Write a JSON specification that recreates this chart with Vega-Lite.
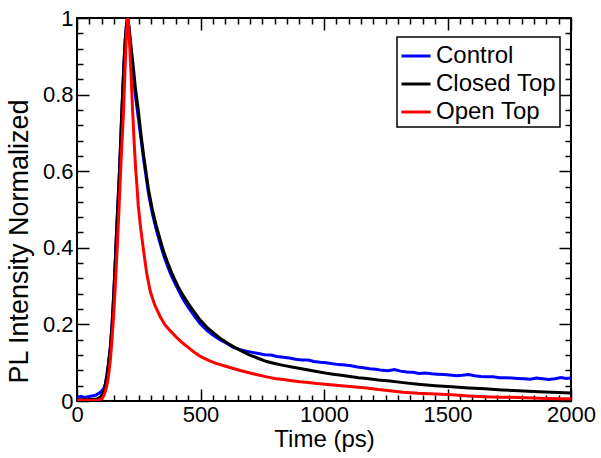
{
"$schema": "https://vega.github.io/schema/vega-lite/v6.json",
"width": 494, "height": 383,
"autosize": {"type": "none"},
"padding": {"left": 77, "top": 18, "right": 30, "bottom": 57},
"config": {
  "font": "Liberation Sans",
  "view": {"stroke": "black", "strokeWidth": 2},
  "axis": {"grid": false, "domain": false, "tickColor": "black", "tickWidth": 1.5, "labelFont": "Liberation Sans", "labelFontSize": 22, "labelColor": "black", "titleFont": "Liberation Sans", "titleFontSize": 24, "titleFontWeight": "normal", "titleColor": "black", "labelOverlap": false, "labelFlush": false},
  "legend": {"strokeColor": "black", "strokeWidth": 1.5, "fillColor": "white", "labelFont": "Liberation Sans", "labelFontSize": 24, "labelColor": "black", "symbolType": "stroke", "symbolSize": 841, "symbolStrokeWidth": 3, "padding": 3, "rowPadding": 0, "labelOffset": 4}
},
"layer": [
  {
    "data": {"values": [
{"s":"Control","t":0,"v":0.010},{"s":"Control","t":15,"v":0.012},{"s":"Control","t":30,"v":0.009},{"s":"Control","t":45,"v":0.011},{"s":"Control","t":60,"v":0.013},{"s":"Control","t":75,"v":0.015},{"s":"Control","t":88,"v":0.02},{"s":"Control","t":98,"v":0.024},{"s":"Control","t":108,"v":0.032},{"s":"Control","t":115,"v":0.045},{"s":"Control","t":121,"v":0.068},{"s":"Control","t":128,"v":0.1},{"s":"Control","t":135,"v":0.14},{"s":"Control","t":142,"v":0.2},{"s":"Control","t":148,"v":0.27},{"s":"Control","t":154,"v":0.35},{"s":"Control","t":160,"v":0.44},{"s":"Control","t":166,"v":0.52},{"s":"Control","t":172,"v":0.6},{"s":"Control","t":177,"v":0.68},{"s":"Control","t":181,"v":0.747},{"s":"Control","t":186,"v":0.82},{"s":"Control","t":190,"v":0.88},{"s":"Control","t":195,"v":0.94},{"s":"Control","t":200,"v":0.98},{"s":"Control","t":205,"v":1.0},{"s":"Control","t":210,"v":0.975},{"s":"Control","t":218,"v":0.92},{"s":"Control","t":225,"v":0.87},{"s":"Control","t":236,"v":0.8},{"s":"Control","t":248,"v":0.74},{"s":"Control","t":260,"v":0.68},{"s":"Control","t":270,"v":0.63},{"s":"Control","t":280,"v":0.585},{"s":"Control","t":290,"v":0.54},{"s":"Control","t":305,"v":0.49},{"s":"Control","t":320,"v":0.45},{"s":"Control","t":335,"v":0.415},{"s":"Control","t":351,"v":0.38},{"s":"Control","t":365,"v":0.355},{"s":"Control","t":380,"v":0.33},{"s":"Control","t":395,"v":0.31},{"s":"Control","t":410,"v":0.29},{"s":"Control","t":430,"v":0.265},{"s":"Control","t":450,"v":0.245},{"s":"Control","t":475,"v":0.222},{"s":"Control","t":498,"v":0.202},{"s":"Control","t":525,"v":0.185},{"s":"Control","t":550,"v":0.172},{"s":"Control","t":579,"v":0.16},{"s":"Control","t":607,"v":0.15},{"s":"Control","t":633,"v":0.14},{"s":"Control","t":660,"v":0.134},{"s":"Control","t":685,"v":0.13},{"s":"Control","t":710,"v":0.127},{"s":"Control","t":735,"v":0.124},{"s":"Control","t":760,"v":0.121},{"s":"Control","t":785,"v":0.12},{"s":"Control","t":810,"v":0.116},{"s":"Control","t":835,"v":0.114},{"s":"Control","t":860,"v":0.112},{"s":"Control","t":885,"v":0.109},{"s":"Control","t":910,"v":0.107},{"s":"Control","t":935,"v":0.107},{"s":"Control","t":960,"v":0.103},{"s":"Control","t":985,"v":0.101},{"s":"Control","t":1010,"v":0.1},{"s":"Control","t":1035,"v":0.097},{"s":"Control","t":1060,"v":0.095},{"s":"Control","t":1085,"v":0.094},{"s":"Control","t":1110,"v":0.092},{"s":"Control","t":1135,"v":0.089},{"s":"Control","t":1160,"v":0.087},{"s":"Control","t":1185,"v":0.084},{"s":"Control","t":1210,"v":0.083},{"s":"Control","t":1235,"v":0.08},{"s":"Control","t":1260,"v":0.079},{"s":"Control","t":1285,"v":0.082},{"s":"Control","t":1310,"v":0.078},{"s":"Control","t":1335,"v":0.076},{"s":"Control","t":1360,"v":0.075},{"s":"Control","t":1385,"v":0.072},{"s":"Control","t":1410,"v":0.073},{"s":"Control","t":1435,"v":0.071},{"s":"Control","t":1460,"v":0.07},{"s":"Control","t":1485,"v":0.069},{"s":"Control","t":1510,"v":0.068},{"s":"Control","t":1535,"v":0.066},{"s":"Control","t":1560,"v":0.067},{"s":"Control","t":1585,"v":0.069},{"s":"Control","t":1610,"v":0.066},{"s":"Control","t":1635,"v":0.064},{"s":"Control","t":1660,"v":0.063},{"s":"Control","t":1685,"v":0.063},{"s":"Control","t":1710,"v":0.061},{"s":"Control","t":1735,"v":0.061},{"s":"Control","t":1760,"v":0.06},{"s":"Control","t":1785,"v":0.059},{"s":"Control","t":1810,"v":0.058},{"s":"Control","t":1835,"v":0.057},{"s":"Control","t":1860,"v":0.06},{"s":"Control","t":1885,"v":0.058},{"s":"Control","t":1910,"v":0.056},{"s":"Control","t":1935,"v":0.058},{"s":"Control","t":1960,"v":0.061},{"s":"Control","t":1980,"v":0.059},{"s":"Control","t":2000,"v":0.06},
{"s":"Closed Top","t":0,"v":0.003},{"s":"Closed Top","t":50,"v":0.003},{"s":"Closed Top","t":80,"v":0.005},{"s":"Closed Top","t":95,"v":0.01},{"s":"Closed Top","t":105,"v":0.02},{"s":"Closed Top","t":113,"v":0.035},{"s":"Closed Top","t":121,"v":0.065},{"s":"Closed Top","t":128,"v":0.1},{"s":"Closed Top","t":135,"v":0.14},{"s":"Closed Top","t":142,"v":0.2},{"s":"Closed Top","t":148,"v":0.27},{"s":"Closed Top","t":154,"v":0.35},{"s":"Closed Top","t":160,"v":0.44},{"s":"Closed Top","t":166,"v":0.52},{"s":"Closed Top","t":172,"v":0.6},{"s":"Closed Top","t":177,"v":0.68},{"s":"Closed Top","t":181,"v":0.75},{"s":"Closed Top","t":186,"v":0.82},{"s":"Closed Top","t":190,"v":0.88},{"s":"Closed Top","t":195,"v":0.94},{"s":"Closed Top","t":200,"v":0.98},{"s":"Closed Top","t":205,"v":1.0},{"s":"Closed Top","t":210,"v":0.98},{"s":"Closed Top","t":218,"v":0.93},{"s":"Closed Top","t":225,"v":0.89},{"s":"Closed Top","t":236,"v":0.82},{"s":"Closed Top","t":248,"v":0.76},{"s":"Closed Top","t":260,"v":0.69},{"s":"Closed Top","t":270,"v":0.64},{"s":"Closed Top","t":280,"v":0.595},{"s":"Closed Top","t":290,"v":0.55},{"s":"Closed Top","t":305,"v":0.5},{"s":"Closed Top","t":320,"v":0.46},{"s":"Closed Top","t":335,"v":0.425},{"s":"Closed Top","t":351,"v":0.39},{"s":"Closed Top","t":365,"v":0.365},{"s":"Closed Top","t":380,"v":0.34},{"s":"Closed Top","t":395,"v":0.318},{"s":"Closed Top","t":410,"v":0.298},{"s":"Closed Top","t":430,"v":0.275},{"s":"Closed Top","t":450,"v":0.255},{"s":"Closed Top","t":475,"v":0.232},{"s":"Closed Top","t":498,"v":0.212},{"s":"Closed Top","t":525,"v":0.193},{"s":"Closed Top","t":550,"v":0.179},{"s":"Closed Top","t":579,"v":0.164},{"s":"Closed Top","t":607,"v":0.152},{"s":"Closed Top","t":633,"v":0.142},{"s":"Closed Top","t":665,"v":0.131},{"s":"Closed Top","t":700,"v":0.12},{"s":"Closed Top","t":735,"v":0.111},{"s":"Closed Top","t":768,"v":0.103},{"s":"Closed Top","t":800,"v":0.098},{"s":"Closed Top","t":835,"v":0.093},{"s":"Closed Top","t":870,"v":0.089},{"s":"Closed Top","t":903,"v":0.085},{"s":"Closed Top","t":937,"v":0.081},{"s":"Closed Top","t":970,"v":0.077},{"s":"Closed Top","t":1005,"v":0.073},{"s":"Closed Top","t":1037,"v":0.07},{"s":"Closed Top","t":1070,"v":0.067},{"s":"Closed Top","t":1105,"v":0.064},{"s":"Closed Top","t":1140,"v":0.061},{"s":"Closed Top","t":1173,"v":0.059},{"s":"Closed Top","t":1220,"v":0.055},{"s":"Closed Top","t":1267,"v":0.052},{"s":"Closed Top","t":1320,"v":0.048},{"s":"Closed Top","t":1381,"v":0.044},{"s":"Closed Top","t":1450,"v":0.04},{"s":"Closed Top","t":1517,"v":0.037},{"s":"Closed Top","t":1585,"v":0.034},{"s":"Closed Top","t":1652,"v":0.032},{"s":"Closed Top","t":1720,"v":0.029},{"s":"Closed Top","t":1787,"v":0.027},{"s":"Closed Top","t":1870,"v":0.024},{"s":"Closed Top","t":1947,"v":0.022},{"s":"Closed Top","t":2000,"v":0.021},
{"s":"Open Top","t":0,"v":0.002},{"s":"Open Top","t":80,"v":0.002},{"s":"Open Top","t":92,"v":0.003},{"s":"Open Top","t":100,"v":0.006},{"s":"Open Top","t":108,"v":0.013},{"s":"Open Top","t":115,"v":0.026},{"s":"Open Top","t":120,"v":0.038},{"s":"Open Top","t":125,"v":0.055},{"s":"Open Top","t":130,"v":0.078},{"s":"Open Top","t":135,"v":0.107},{"s":"Open Top","t":141,"v":0.155},{"s":"Open Top","t":148,"v":0.22},{"s":"Open Top","t":155,"v":0.3},{"s":"Open Top","t":162,"v":0.39},{"s":"Open Top","t":170,"v":0.5},{"s":"Open Top","t":178,"v":0.62},{"s":"Open Top","t":184,"v":0.7},{"s":"Open Top","t":188,"v":0.75},{"s":"Open Top","t":193,"v":0.84},{"s":"Open Top","t":197,"v":0.91},{"s":"Open Top","t":201,"v":0.97},{"s":"Open Top","t":205,"v":1.0},{"s":"Open Top","t":209,"v":0.98},{"s":"Open Top","t":214,"v":0.92},{"s":"Open Top","t":219,"v":0.85},{"s":"Open Top","t":225,"v":0.76},{"s":"Open Top","t":231,"v":0.68},{"s":"Open Top","t":237,"v":0.61},{"s":"Open Top","t":243,"v":0.56},{"s":"Open Top","t":248,"v":0.51},{"s":"Open Top","t":258,"v":0.45},{"s":"Open Top","t":270,"v":0.39},{"s":"Open Top","t":283,"v":0.33},{"s":"Open Top","t":297,"v":0.285},{"s":"Open Top","t":315,"v":0.25},{"s":"Open Top","t":337,"v":0.22},{"s":"Open Top","t":355,"v":0.2},{"s":"Open Top","t":375,"v":0.185},{"s":"Open Top","t":405,"v":0.165},{"s":"Open Top","t":430,"v":0.15},{"s":"Open Top","t":450,"v":0.14},{"s":"Open Top","t":475,"v":0.127},{"s":"Open Top","t":498,"v":0.117},{"s":"Open Top","t":530,"v":0.107},{"s":"Open Top","t":560,"v":0.099},{"s":"Open Top","t":595,"v":0.092},{"s":"Open Top","t":633,"v":0.085},{"s":"Open Top","t":665,"v":0.079},{"s":"Open Top","t":700,"v":0.073},{"s":"Open Top","t":735,"v":0.068},{"s":"Open Top","t":768,"v":0.063},{"s":"Open Top","t":800,"v":0.059},{"s":"Open Top","t":835,"v":0.056},{"s":"Open Top","t":870,"v":0.053},{"s":"Open Top","t":903,"v":0.05},{"s":"Open Top","t":937,"v":0.048},{"s":"Open Top","t":970,"v":0.046},{"s":"Open Top","t":1005,"v":0.044},{"s":"Open Top","t":1037,"v":0.042},{"s":"Open Top","t":1070,"v":0.04},{"s":"Open Top","t":1105,"v":0.038},{"s":"Open Top","t":1140,"v":0.036},{"s":"Open Top","t":1173,"v":0.034},{"s":"Open Top","t":1220,"v":0.03},{"s":"Open Top","t":1267,"v":0.027},{"s":"Open Top","t":1320,"v":0.023},{"s":"Open Top","t":1381,"v":0.02},{"s":"Open Top","t":1450,"v":0.018},{"s":"Open Top","t":1517,"v":0.016},{"s":"Open Top","t":1585,"v":0.013},{"s":"Open Top","t":1652,"v":0.011},{"s":"Open Top","t":1720,"v":0.01},{"s":"Open Top","t":1787,"v":0.009},{"s":"Open Top","t":1870,"v":0.007},{"s":"Open Top","t":1947,"v":0.006},{"s":"Open Top","t":2000,"v":0.006}
    ]},
    "mark": {"type": "line", "strokeWidth": 3, "clip": true},
    "encoding": {
      "x": {"field": "t", "type": "quantitative", "scale": {"domain": [0, 2000], "nice": false, "zero": false},
        "axis": {"orient": "bottom", "title": "Time (ps)", "titlePadding": 2, "format": "d", "ticks": false,
          "values": [0, 500, 1000, 1500, 2000], "labelPadding": 3}},
      "y": {"field": "v", "type": "quantitative", "scale": {"domain": [0, 1], "nice": false},
        "axis": {"orient": "left", "title": "PL Intensity Normalized", "titleFontSize": 27, "titleY": 223, "titlePadding": 9, "format": "~g", "ticks": false,
          "values": [0, 0.2, 0.4, 0.6, 0.8, 1], "labelPadding": 4}},
      "color": {"field": "s", "type": "nominal",
        "scale": {"domain": ["Control", "Closed Top", "Open Top"], "range": ["#0000ff", "#000000", "#ff0000"]},
        "legend": {"title": null, "orient": "none", "legendX": 320, "legendY": 19}}
    }
  },
  {
    "data": {"values": [{"t": 0, "v": 0}, {"t": 2000, "v": 1}]},
    "mark": {"type": "point", "opacity": 0},
    "encoding": {
      "x": {"field": "t", "type": "quantitative",
        "axis": {"orient": "bottom", "title": null, "labels": false,
          "values": [0,50,100,150,200,250,300,350,400,450,500,550,600,650,700,750,800,850,900,950,1000,1050,1100,1150,1200,1250,1300,1350,1400,1450,1500,1550,1600,1650,1700,1750,1800,1850,1900,1950,2000],
          "tickSize": {"condition": {"test": "datum.value % 500 === 0", "value": -12}, "value": -6}}},
      "y": {"field": "v", "type": "quantitative",
        "axis": {"orient": "left", "title": null, "labels": false,
          "values": [0,0.04,0.08,0.12,0.16,0.2,0.24,0.28,0.32,0.36,0.4,0.44,0.48,0.52,0.56,0.6,0.64,0.68,0.72,0.76,0.8,0.84,0.88,0.92,0.96,1],
          "tickSize": {"condition": {"test": "abs(datum.value*5-round(datum.value*5))<0.001", "value": -12}, "value": -6}}}
    }
  },
  {
    "data": {"values": [{"t": 0, "v": 0}, {"t": 2000, "v": 1}]},
    "mark": {"type": "point", "opacity": 0},
    "encoding": {
      "x": {"field": "t", "type": "quantitative",
        "axis": {"orient": "top", "title": null, "labels": false,
          "values": [0,50,100,150,200,250,300,350,400,450,500,550,600,650,700,750,800,850,900,950,1000,1050,1100,1150,1200,1250,1300,1350,1400,1450,1500,1550,1600,1650,1700,1750,1800,1850,1900,1950,2000],
          "tickSize": {"condition": {"test": "datum.value % 500 === 0", "value": -12}, "value": -6}}},
      "y": {"field": "v", "type": "quantitative",
        "axis": {"orient": "right", "title": null, "labels": false,
          "values": [0,0.04,0.08,0.12,0.16,0.2,0.24,0.28,0.32,0.36,0.4,0.44,0.48,0.52,0.56,0.6,0.64,0.68,0.72,0.76,0.8,0.84,0.88,0.92,0.96,1],
          "tickSize": {"condition": {"test": "abs(datum.value*5-round(datum.value*5))<0.001", "value": -12}, "value": -6}}}
    }
  }
],
"resolve": {"axis": {"x": "independent", "y": "independent"}}
}
